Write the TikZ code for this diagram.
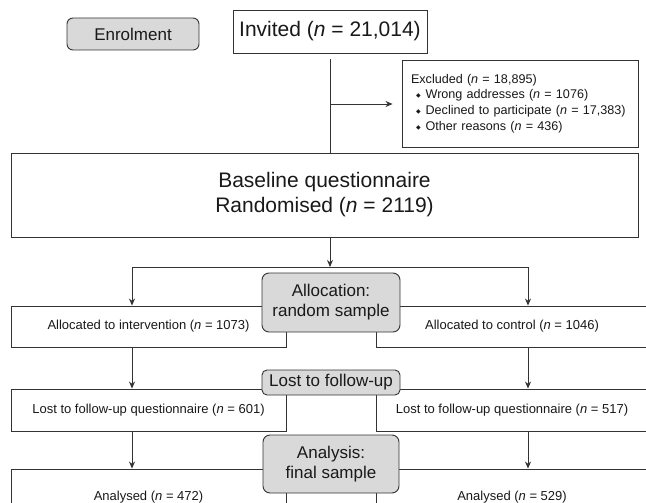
\documentclass[tikz,border=0pt]{standalone}
\usepackage{fontspec}
\setmainfont{Liberation Sans}
\newfontfamily\symfont{DejaVu Sans}
\usetikzlibrary{arrows.meta}
\newcommand{\bul}{\hspace*{5pt}{\symfont\fontsize{6}{6}\selectfont\raisebox{1pt}{◆}}\hspace{5pt}}

\begin{document}
\begin{tikzpicture}[x=1pt, y=-1pt, >={Stealth[length=7pt,width=6pt]}, line width=0.9pt, draw=black!80,
  box/.style={draw=black!80, fill=white, inner sep=0pt, align=center, text=black!90},
  tag/.style={box, fill=black!15, rounded corners=7pt, font=\fontsize{17}{20}\selectfont},
  big/.style={font=\fontsize{21}{25}\selectfont},
  small/.style={font=\fontsize{13}{16}\selectfont}]
  \useasboundingbox (0,0) rectangle (646,503);
  \clip (0,0) rectangle (646,503);
  \node[box, big, minimum width=194pt, minimum height=43pt] (invited) at (330,31.5) {Invited (\textit{n} = 21,014)};
  \node[box, font=\fontsize{12.6}{15.6}\selectfont, align=left, text width=218pt, inner xsep=9pt, minimum height=87pt] (excl) at (520,103.5) {Excluded (\textit{n} = 18,895)\\ \bul Wrong addresses (\textit{n} = 1076)\\ \bul Declined to participate (\textit{n} = 17,383)\\ \bul Other reasons (\textit{n} = 436)};
  \node[box, big, minimum width=627pt, minimum height=84pt] (baseline) at (324.5,195) {Baseline questionnaire\\ Randomised (\textit{n} = 2119)};
  \node[box, small, minimum width=275pt, minimum height=41pt] (allocI) at (148.5,326.5) {Allocated to intervention (\textit{n} = 1073)};
  \node[box, small, minimum width=272pt, minimum height=41pt] (allocC) at (512,326.5) {Allocated to control (\textit{n} = 1046)};
  \node[box, small, minimum width=275pt, minimum height=42pt] (lostI) at (148.5,410) {Lost to follow-up questionnaire (\textit{n} = 601)};
  \node[box, small, minimum width=272pt, minimum height=42pt] (lostC) at (512,410) {Lost to follow-up questionnaire (\textit{n} = 517)};
  \node[box, small, minimum width=275pt, minimum height=56pt] (anaI) at (148.5,497) {Analysed (\textit{n} = 472)};
  \node[box, small, minimum width=272pt, minimum height=56pt] (anaC) at (512,497) {Analysed (\textit{n} = 529)};
  \coordinate (split) at (330,104);
  \coordinate (branch) at (330,267);
  \coordinate (brL) at (132,267);
  \coordinate (brR) at (528,267);
  \draw[shorten <=6pt] (invited.south) -- (invited.south |- baseline.north);
  \draw[->, shorten >=9pt] (split) -- (excl.west |- split);
  \draw[->] (branch |- baseline.south) -- (branch);
  \draw (brL) -- (brR);
  \draw[->] (brL) -- (allocI.north -| brL);
  \draw[->] (brR) -- (allocC.north -| brR);
  \draw[->] (allocI.south -| brL) -- (lostI.north -| brL);
  \draw[->] (allocC.south -| brR) -- (lostC.north -| brR);
  \draw[->] (lostI.south -| brL) -- (anaI.north -| brL);
  \draw[->] (lostC.south -| brR) -- (anaC.north -| brR);
  \node[tag, minimum width=132pt, minimum height=32pt, rounded corners=6pt] (enrol) at (133,34) {Enrolment};
  \node[tag, minimum width=138pt, minimum height=59pt] (allocation) at (331,302.5) {Allocation:\\ random sample};
  \node[tag, minimum width=138pt, minimum height=25pt, rounded corners=5pt] (lost) at (331,382.5) {Lost to follow-up};
  \node[tag, minimum width=136pt, minimum height=58pt] (analysis) at (331,464) {Analysis:\\ final sample};
\end{tikzpicture}
\end{document}
